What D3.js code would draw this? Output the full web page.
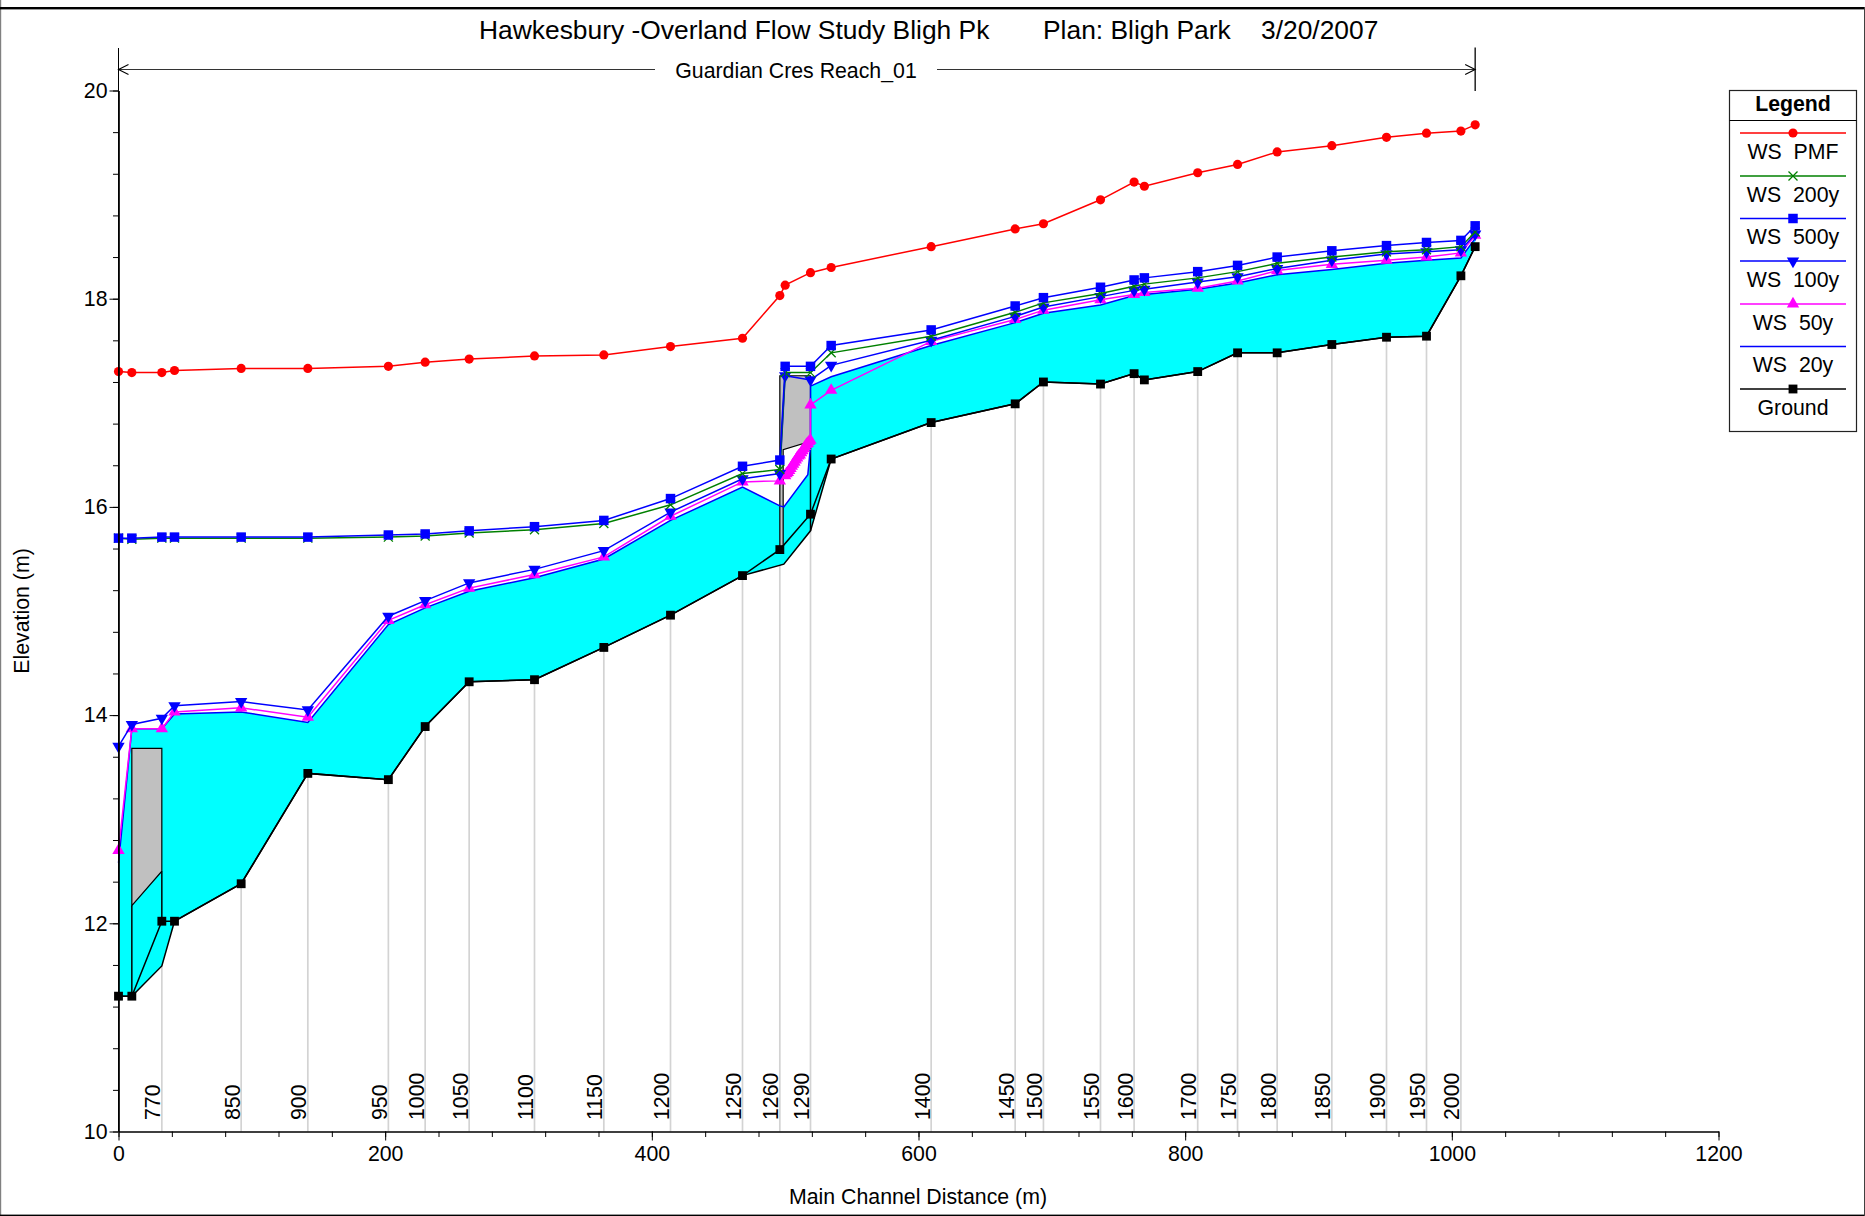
<!DOCTYPE html>
<html><head><meta charset="utf-8">
<script src="https://cdn.jsdelivr.net/npm/d3@7"></script>
<style>html,body{margin:0;padding:0;background:#fff}svg{display:block}text{font-family:"Liberation Sans",Arial,sans-serif;fill:#000}</style>
</head><body><div id="chart"></div>
<script>
const stations=[0,10,32.5,42,92,142,202.4,230,263,312,364,414,468,496,500,519,534.5,609.5,672.5,693.7,736.5,761.7,769.4,809.4,839.3,869,910,951,981,1006.8,1017.5];
const wsPMF=[17.30,17.29,17.29,17.31,17.33,17.33,17.35,17.39,17.42,17.45,17.46,17.54,17.62,18.03,18.13,18.25,18.30,18.50,18.67,18.72,18.95,19.12,19.08,19.21,19.29,19.41,19.47,19.55,19.59,19.61,19.67];
const ws500=[15.70,15.70,15.71,15.71,15.71,15.71,15.73,15.74,15.77,15.81,15.87,16.08,16.39,16.45,17.35,17.35,17.55,17.70,17.93,18.01,18.11,18.18,18.20,18.26,18.32,18.40,18.46,18.51,18.54,18.56,18.70];
const ws200=[15.70,15.69,15.70,15.70,15.70,15.70,15.71,15.72,15.75,15.78,15.84,16.02,16.32,16.36,17.29,17.29,17.48,17.64,17.87,17.96,18.05,18.12,18.14,18.20,18.26,18.34,18.40,18.45,18.47,18.50,18.64];
const ws100=[13.70,13.91,13.97,14.09,14.13,14.05,14.95,15.10,15.27,15.40,15.58,15.95,16.27,16.32,17.26,17.22,17.36,17.60,17.83,17.92,18.02,18.08,18.09,18.16,18.21,18.29,18.37,18.43,18.45,18.47,18.62];
const ws50X=[0,10,32.5,42,92,142,202.4,230,263,312,364,414,468,496,500,501,502,503,504,505,506,507,508,509,510,511,512,513,514,515,516,517,518,519,519,534.5,609.5,672.5,693.7,736.5,761.7,769.4,809.4,839.3,869,910,951,981,1006.8,1017.5];
const ws50=[12.70,13.87,13.87,14.03,14.07,13.98,14.91,15.06,15.22,15.35,15.52,15.91,16.24,16.25,16.30,16.32,16.33,16.35,16.37,16.39,16.41,16.43,16.45,16.47,16.49,16.50,16.52,16.54,16.56,16.58,16.60,16.61,16.63,16.64,16.98,17.12,17.59,17.80,17.89,17.99,18.04,18.06,18.10,18.17,18.27,18.33,18.37,18.40,18.44,18.61];
const ws20X=[0,10,32.5,42,92,142,202.4,230,263,312,364,414,468,496,499,517,519,519,534.5,609.5,672.5,693.7,736.5,761.7,769.4,809.4,839.3,869,910,951,981,1006.8,1017.5];
const ws20=[12.58,13.87,13.87,14.01,14.03,13.93,14.87,15.03,15.19,15.32,15.50,15.87,16.19,16.01,16.00,16.31,16.58,17.16,17.25,17.55,17.77,17.86,17.94,18.03,18.04,18.09,18.15,18.23,18.28,18.34,18.37,18.39,18.58];
const groundX=[0,10,32.5,42,92,142,202.4,230,263,312,364,414,468,496,519,534.5,609.5,672.5,693.7,736.5,761.7,769.4,809.4,839.3,869,910,951,981,1006.8,1017.5];
const ground=[11.30,11.30,12.02,12.02,12.38,13.44,13.38,13.89,14.32,14.34,14.65,14.96,15.34,15.59,15.93,16.46,16.81,16.99,17.20,17.18,17.28,17.22,17.30,17.48,17.48,17.56,17.63,17.64,18.22,18.50];
const lowerX=[0,10,32.5,42,92,142,202.4,230,263,312,364,414,468,499,519,534.5,609.5,672.5,693.7,736.5,761.7,769.4,809.4,839.3,869,910,951,981,1006.8,1017.5];
const lower=[11.30,11.30,11.59,12.02,12.38,13.44,13.38,13.89,14.32,14.34,14.65,14.96,15.34,15.45,15.77,16.46,16.81,16.99,17.20,17.18,17.28,17.22,17.30,17.48,17.48,17.56,17.63,17.64,18.22,18.50];
const culvertX=[10,10,32.5,32.5];
const culvertY=[12.17,13.68,13.68,12.50];
const bridgeX=[496,496,519,519,498.5,498.5];
const bridgeY=[15.59,17.26,17.26,16.63,16.55,15.63];
const stationLabels=["770","850","900","950","1000","1050","1100","1150","1200","1250","1260","1290","1400","1450","1500","1550","1600","1700","1750","1800","1850","1900","1950","2000"];
const stationLabelX=[32.5,92,142,202.4,230,263,312,364,414,468,496,519,609.5,672.5,693.7,736.5,761.7,809.4,839.3,869,910,951,981,1006.8];
const xMajor=[0,200,400,600,800,1000,1200];
const xMinor=d3.range(0,1201,40);
const yMajor=[10,12,14,16,18,20];
const yMinor=d3.range(10,20.01,0.4);
const legendNames=["WS  PMF","WS  200y","WS  500y","WS  100y","WS  50y","WS  20y","Ground"];
const titleParts=["Hawkesbury -Overland Flow Study Bligh Pk","Plan: Bligh Park","3/20/2007"];

const W=1865,H=1216;
const svg=d3.select("#chart").append("svg").attr("width",W).attr("height",H);
const x=d3.scaleLinear().domain([0,1200]).range([118.5,1718.5]);
const y=d3.scaleLinear().domain([10,20]).range([1131.5,90.5]);
const pairs=(a,b)=>a.map((v,i)=>[v,b[i]]);
const line=d3.line().x(d=>x(d[0])).y(d=>y(d[1]));

// frame
svg.append("rect").attr("x",0).attr("y",0).attr("width",1.2).attr("height",H).attr("fill","#808080");
svg.append("rect").attr("x",0).attr("y",7).attr("width",W).attr("height",2.4).attr("fill","#000");
svg.append("rect").attr("x",0).attr("y",1214.6).attr("width",W).attr("height",1.4).attr("fill","#000");
svg.append("rect").attr("x",W-1).attr("y",7).attr("width",1).attr("height",H-7).attr("fill","#404040");

// titles
const F=21.3;
[[479,titleParts[0]],[1043,titleParts[1]],[1261,titleParts[2]]].forEach(p=>
  svg.append("text").attr("x",p[0]).attr("y",39).attr("font-size",26.4).text(p[1]));

// station drop lines
const gLab=svg.append("g");
stationLabelX.forEach((s,i)=>{
  const g=ground[groundX.indexOf(s)];
  gLab.append("line").attr("x1",x(s)).attr("x2",x(s)).attr("y1",y(10)).attr("y2",y(g)).attr("stroke","#d3d3d3").attr("stroke-width",1.7);
  gLab.append("text").attr("transform",`translate(${x(s)-1.5},1120) rotate(-90)`).attr("font-size",F).text(stationLabels[i]);
});

// water fill
const waterTop=pairs(ws20X,ws20), waterBottom=pairs(lowerX,lower).reverse();
svg.append("path").attr("d",line(waterTop.concat(waterBottom))+"Z").attr("fill","#00ffff");

// culvert and bridge
const structStyle=s=>s.attr("fill","#c0c0c0").attr("stroke","#000").attr("stroke-width",1.2);
structStyle(svg.append("path").attr("d",line(pairs(culvertX,culvertY))+"Z"));
structStyle(svg.append("path").attr("d",line(pairs(bridgeX,bridgeY))+"Z"));
const black=(d)=>svg.append("path").attr("d",line(d)).attr("fill","none").attr("stroke","#000").attr("stroke-width",1.5);
black([[culvertX[0],culvertY[0]],[10,ground[1]]]);
black([[culvertX[3],culvertY[3]],[32.5,ground[2]]]);
black([[519,16.63],[519,15.77]]);
black(pairs(lowerX,lower));

// series
const sym=(t,s,r)=>{const p=d3.symbol().type(t).size(s)();return {p,r:r||0};};
const markers={
  square:sym(d3.symbolSquare,90),
  bsquare:sym(d3.symbolSquare,78),
  circle:sym(d3.symbolCircle,66),
  cross:{p:"M-4.5,-4.5L4.5,4.5M-4.5,4.5L4.5,-4.5",r:0,stroke:true},
  down:sym(d3.symbolTriangle,66,180),
  up:sym(d3.symbolTriangle,66,0)
};
const series=[
 {n:5,xs:ws20X,ys:ws20,c:"#0000ff",m:null},
 {n:6,xs:groundX,ys:ground,c:"#000000",m:"bsquare"},
 {n:4,xs:ws50X,ys:ws50,c:"#ff00ff",m:"up"},
 {n:3,xs:stations,ys:ws100,c:"#0000ff",m:"down"},
 {n:1,xs:stations,ys:ws200,c:"#008000",m:"cross"},
 {n:2,xs:stations,ys:ws500,c:"#0000ff",m:"square"},
 {n:0,xs:stations,ys:wsPMF,c:"#ff0000",m:"circle"}
];
function drawMarker(g,mk,c,px,py){
  const k=markers[mk];
  const e=g.append("path").attr("d",k.p).attr("transform",`translate(${px},${py}) rotate(${k.r})`);
  if(k.stroke) e.attr("fill","none").attr("stroke",c).attr("stroke-width",1.3);
  else e.attr("fill",c);
}
series.forEach(s=>{
  const g=svg.append("g");
  g.append("path").attr("d",line(pairs(s.xs,s.ys))).attr("fill","none").attr("stroke",s.c).attr("stroke-width",1.5);
  if(s.m) s.xs.forEach((v,i)=>drawMarker(g,s.m,s.c,x(v),y(s.ys[i])));
});

// axes
const tickFont=g=>g.selectAll("text").attr("font-size",F).attr("font-family",'"Liberation Sans",Arial,sans-serif').attr("fill","#000");
const gx=svg.append("g").attr("transform",`translate(0,${y(10)})`);
gx.append("g").call(d3.axisBottom(x).tickValues(xMinor).tickSize(5.5).tickSizeOuter(0).tickFormat(""));
gx.append("g").call(d3.axisBottom(x).tickValues(xMajor).tickSize(9).tickSizeOuter(0).tickPadding(5).tickFormat(d3.format("d"))).call(tickFont);
const gy=svg.append("g").attr("transform",`translate(${x(0)},0)`);
gy.append("g").call(d3.axisLeft(y).tickValues(yMinor).tickSize(5.5).tickSizeOuter(0).tickFormat(""));
gy.append("g").call(d3.axisLeft(y).tickValues(yMajor).tickSize(9).tickSizeOuter(0).tickPadding(2).tickFormat(d3.format("d"))).call(tickFont);
gy.append("line").attr("x1",0).attr("x2",0).attr("y1",48).attr("y2",y(10)).attr("stroke","#000");
svg.selectAll(".domain").attr("stroke","#000").attr("stroke-width",1.2);

svg.append("text").attr("x",918).attr("y",1204).attr("text-anchor","middle").attr("font-size",F).text("Main Channel Distance (m)");
svg.append("text").attr("transform","translate(29,611) rotate(-90)").attr("text-anchor","middle").attr("font-size",F).text("Elevation (m)");

// reach marker
const ry=69.5, rr=x(1017.5);
const rl=(x1,x2)=>svg.append("line").attr("x1",x1).attr("x2",x2).attr("y1",ry).attr("y2",ry).attr("stroke","#333").attr("stroke-width",1.2);
rl(x(0),655); rl(937,rr);
svg.append("path").attr("d",`M${x(0)+10},${ry-5}L${x(0)},${ry}L${x(0)+10},${ry+5}M${rr-10},${ry-5}L${rr},${ry}L${rr-10},${ry+5}`).attr("fill","none").attr("stroke","#000").attr("stroke-width",1.1);
svg.append("line").attr("x1",rr).attr("x2",rr).attr("y1",47.5).attr("y2",91).attr("stroke","#000").attr("stroke-width",1.3);
svg.append("text").attr("x",796).attr("y",78).attr("text-anchor","middle").attr("font-size",F).text("Guardian Cres Reach_01");

// legend
const lg=svg.append("g");
lg.append("rect").attr("x",1729.5).attr("y",90.5).attr("width",127).attr("height",341).attr("fill","#fff").attr("stroke","#222").attr("stroke-width",1.2);
lg.append("line").attr("x1",1729.5).attr("x2",1856.5).attr("y1",120.5).attr("y2",120.5).attr("stroke","#000").attr("stroke-width",1.2);
lg.append("text").attr("x",1793).attr("y",111).attr("text-anchor","middle").attr("font-size",F).attr("font-weight","bold").text("Legend");
const legendLineY=[133,176,218.5,261,304,346.5,389];
const legendStyle=["#ff0000","#008000","#0000ff","#0000ff","#ff00ff","#0000ff","#000000"];
const legendMark=["circle","cross","square","down","up",null,"bsquare"];
legendNames.forEach((n,i)=>{
  const ly=legendLineY[i];
  lg.append("line").attr("x1",1740).attr("x2",1846).attr("y1",ly).attr("y2",ly).attr("stroke",legendStyle[i]).attr("stroke-width",1.4);
  if(legendMark[i]) drawMarker(lg,legendMark[i],legendStyle[i],1793,ly);
  lg.append("text").attr("x",1793).attr("y",ly+25.5).attr("text-anchor","middle").attr("font-size",F).style("white-space","pre").text(n);
});
</script></body></html>
